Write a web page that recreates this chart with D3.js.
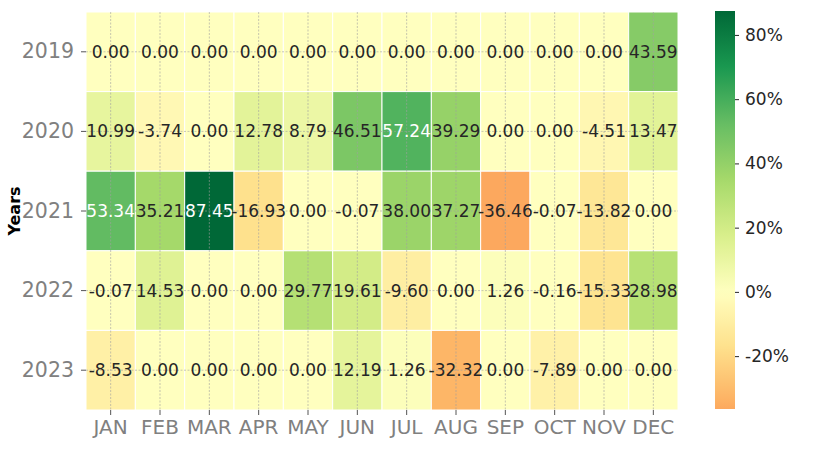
<!DOCTYPE html>
<html><head><meta charset="utf-8">
<script src="https://cdn.jsdelivr.net/npm/d3@7"></script>
<style>body{margin:0;background:#fff}svg{display:block;font-family:"DejaVu Sans",sans-serif}</style>
</head><body><svg id="c" width="840" height="455"></svg>
<script>
const years = ["2019","2020","2021","2022","2023"];
const months = ["JAN","FEB","MAR","APR","MAY","JUN","JUL","AUG","SEP","OCT","NOV","DEC"];
const r2019 = [0.00,0.00,0.00,0.00,0.00,0.00,0.00,0.00,0.00,0.00,0.00,43.59];
const r2020 = [10.99,-3.74,0.00,12.78,8.79,46.51,57.24,39.29,0.00,0.00,-4.51,13.47];
const r2021 = [53.34,35.21,87.45,-16.93,0.00,-0.07,38.00,37.27,-36.46,-0.07,-13.82,0.00];
const r2022 = [-0.07,14.53,0.00,0.00,29.77,19.61,-9.60,0.00,1.26,-0.16,-15.33,28.98];
const r2023 = [-8.53,0.00,0.00,0.00,0.00,12.19,1.26,-32.32,0.00,-7.89,0.00,0.00];
const rows = [r2019,r2020,r2021,r2022,r2023];
const cbTicks = [-20,0,20,40,60,80];

const rdylgn = ["#a50026","#d73027","#f46d43","#fdae61","#fee08b","#ffffbf","#d9ef8b","#a6d96a","#66bd63","#1a9850","#006837"];
const cmap = d3.scaleLinear().domain(d3.range(11).map(i=>i/10)).range(rdylgn).interpolate(d3.interpolateRgb).clamp(true);
const all = rows.flat();
const vmin = d3.min(all), vmax = d3.max(all);
const vrange = Math.max(vmax, -vmin);
const color = v => cmap((v + vrange)/(2*vrange));

const svg = d3.select("#c");
const L=86,R=678,T=12,B=410;
const x = d3.scaleBand().domain(months).range([L,R]);
const y = d3.scaleBand().domain(years).range([T,B]);

const cells = [];
rows.forEach((r,i)=>r.forEach((v,j)=>cells.push({year:years[i],month:months[j],v})));

svg.append("g").selectAll("rect").data(cells).join("rect")
  .attr("x",d=>x(d.month)).attr("y",d=>y(d.year))
  .attr("width",x.bandwidth()).attr("height",y.bandwidth())
  .attr("fill",d=>color(d.v)).attr("stroke","#fff").attr("stroke-width",1);

// grid
const g = svg.append("g").attr("stroke","#a0a0a0").attr("stroke-width",0.6).attr("stroke-dasharray","2,1.5");
months.forEach(m=>g.append("line").attr("x1",x(m)+x.bandwidth()/2).attr("x2",x(m)+x.bandwidth()/2).attr("y1",T).attr("y2",B));
years.forEach(yr=>g.append("line").attr("y1",y(yr)+y.bandwidth()/2).attr("y2",y(yr)+y.bandwidth()/2).attr("x1",L).attr("x2",R));

function lum(c){const o=d3.rgb(c);const f=u=>{u/=255;return u<=0.03928?u/12.92:Math.pow((u+0.055)/1.055,2.4)};return 0.2126*f(o.r)+0.7152*f(o.g)+0.0722*f(o.b);}
svg.append("g").selectAll("text").data(cells).join("text")
  .attr("x",d=>x(d.month)+x.bandwidth()/2).attr("y",d=>y(d.year)+y.bandwidth()/2)
  .attr("text-anchor","middle").attr("dominant-baseline","central")
  .attr("font-size",17)
  .attr("fill",d=>lum(color(d.v))<0.408?"#fff":"#262626")
  .text(d=>d.v.toFixed(2));

// axes
const ax = svg.append("g").attr("transform",`translate(0,${B})`).call(d3.axisBottom(x).tickSize(5).tickPadding(5));
ax.select(".domain").remove();
ax.selectAll("line").attr("stroke","#555");
ax.selectAll("text").attr("font-size",20).attr("fill","#808080").attr("font-family","DejaVu Sans");
const ay = svg.append("g").attr("transform",`translate(${L},0)`).call(d3.axisLeft(y).tickSize(5).tickPadding(7));
ay.select(".domain").remove();
ay.selectAll("line").attr("stroke","#555");
ay.selectAll("text").attr("font-size",20.5).attr("fill","#808080").attr("font-family","DejaVu Sans");

svg.append("text").attr("transform","translate(20,211) rotate(-90)").attr("text-anchor","middle")
  .attr("font-size",16).attr("font-weight","bold").attr("fill","#000").text("Years");

// colorbar
const cx0=715,cx1=735,cy0=11,cy1=409;
const cy = d3.scaleLinear().domain([vmin,vmax]).range([cy1,cy0]);
const grad = svg.append("defs").append("linearGradient").attr("id","cb").attr("x1",0).attr("x2",0).attr("y1",1).attr("y2",0);
d3.range(0,1.0001,0.02).forEach(t=>grad.append("stop").attr("offset",t).attr("stop-color",color(vmin+t*(vmax-vmin))));
svg.append("rect").attr("x",cx0).attr("y",cy0).attr("width",cx1-cx0).attr("height",cy1-cy0).attr("fill","url(#cb)");
const ac = svg.append("g").attr("transform",`translate(${cx1},0)`).call(d3.axisRight(cy).tickValues(cbTicks).tickSize(4).tickPadding(6).tickFormat(d=>d+"%"));
ac.select(".domain").remove();
ac.selectAll("line").attr("stroke","#262626");
ac.selectAll("text").attr("font-size",17).attr("fill","#262626").attr("font-family","DejaVu Sans");
</script></body></html>
